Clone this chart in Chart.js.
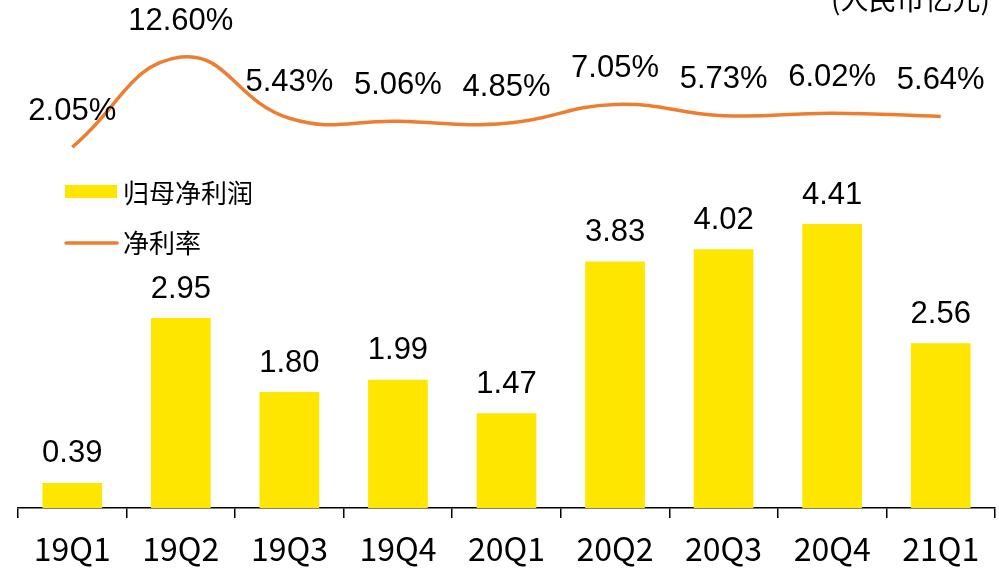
<!DOCTYPE html>
<html>
<head>
<meta charset="utf-8">
<script src="https://cdn.jsdelivr.net/npm/chart.js@4/dist/chart.umd.min.js"></script>
<style>
  html, body { margin: 0; padding: 0; background: #fff; overflow: hidden; }
  canvas { display: block; }
</style>
</head>
<body>
<canvas id="grafico" width="999" height="571"></canvas>
<script>
const quarters = ['19Q1', '19Q2', '19Q3', '19Q4', '20Q1', '20Q2', '20Q3', '20Q4', '21Q1']
const netProfit = [0.39, 2.95, 1.80, 1.99, 1.47, 3.83, 4.02, 4.41, 2.56]
const netMargin = [2.05, 12.60, 5.43, 5.06, 4.85, 7.05, 5.73, 6.02, 5.64]
const seriesNames = ['归母净利润', '净利率']
const unitText = '(人民币亿元)'

const FONT = '"Noto Sans CJK SC", "Noto Sans", sans-serif'
const NUMFONT = '"Liberation Sans", Arial, sans-serif'
const YELLOW = '#FFE600'
const ORANGE = '#ED7D31'

// labels above bars and line points, plus legend and unit text
const etiquetas = {
  id: 'etiquetas',
  afterDatasetsDraw(chart) {
    const ctx = chart.ctx
    ctx.save()
    ctx.fillStyle = '#000'
    ctx.font = '31px ' + NUMFONT
    ctx.textAlign = 'center'
    ctx.textBaseline = 'middle'

    chart.getDatasetMeta(0).data.forEach((bar, i) => {
      ctx.fillText(netProfit[i].toFixed(2), bar.x, bar.y - 29)
    })
    chart.getDatasetMeta(1).data.forEach((pt, i) => {
      ctx.fillText(netMargin[i].toFixed(2) + '%', pt.x, pt.y - 36)
    })

    // legend
    ctx.textAlign = 'left'
    ctx.font = '26px ' + FONT
    ctx.fillStyle = YELLOW
    ctx.fillRect(65, 185, 52, 13)
    ctx.fillStyle = '#000'
    ctx.fillText(seriesNames[0], 123, 193)
    ctx.strokeStyle = ORANGE
    ctx.lineWidth = 3.5
    ctx.lineCap = 'round'
    ctx.beginPath()
    ctx.moveTo(66, 243)
    ctx.lineTo(117, 243)
    ctx.stroke()
    ctx.fillText(seriesNames[1], 123, 243)

    // unit, cut at the top edge
    ctx.font = '28px ' + FONT
    ctx.textAlign = 'right'
    ctx.fillText(unitText, 990, -1)
    ctx.restore()
  }
}

new Chart(document.getElementById('grafico'), {
  type: 'bar',
  data: {
    labels: quarters,
    datasets: [
      {
        label: seriesNames[0],
        data: netProfit,
        backgroundColor: YELLOW,
        barPercentage: 0.55,
        categoryPercentage: 1,
        yAxisID: 'y',
        order: 2
      },
      {
        type: 'line',
        label: seriesNames[1],
        data: netMargin,
        borderColor: ORANGE,
        borderWidth: 3.5,
        tension: 0.45,
        pointRadius: 0,
        fill: false,
        yAxisID: 'y1',
        order: 1
      }
    ]
  },
  options: {
    responsive: false,
    animation: false,
    devicePixelRatio: 1,
    layout: { padding: { left: 18, right: 4, top: 0, bottom: 0 } },
    plugins: { legend: { display: false }, tooltip: { enabled: false } },
    scales: {
      x: {
        offset: true,
        afterFit: (scale) => { scale.height = 63 },
        border: { color: '#000', width: 1.5 },
        grid: { display: true, drawOnChartArea: false, offset: true, color: '#000', tickLength: 10, lineWidth: 1.5 },
        ticks: { color: '#000', font: { size: 32, family: FONT }, padding: 12, maxRotation: 0, autoSkip: false }
      },
      y: { display: false, min: 0, max: 7.89 },
      y1: { display: false, min: -40.3, max: 19.3 }
    }
  },
  plugins: [etiquetas]
})
</script>
</body>
</html>
